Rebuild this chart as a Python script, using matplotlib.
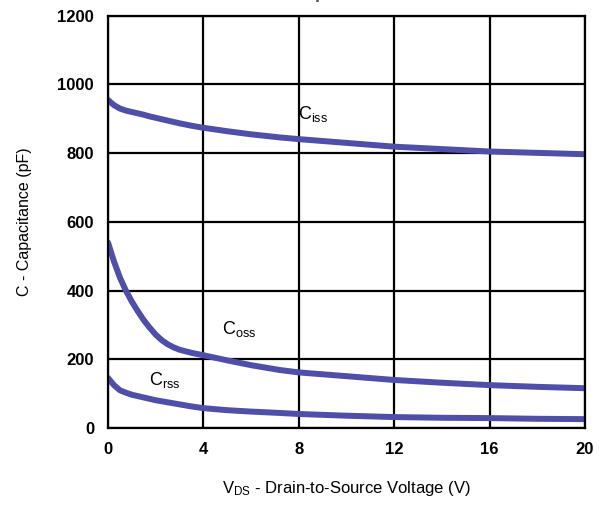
import matplotlib
matplotlib.use('Agg')
import matplotlib.pyplot as plt

plt.rcParams['font.family'] = ['Liberation Sans', 'DejaVu Sans']
plt.rcParams['mathtext.fontset'] = 'custom'
plt.rcParams['mathtext.rm'] = 'Liberation Sans'

# V_DS (V) and capacitances (pF)
vds = [0, 0.25, 0.5, 0.75, 1, 1.25, 1.5, 1.75, 2, 2.25, 2.5, 2.75, 3, 3.5, 4, 5, 6, 7.2, 8, 10, 12, 14, 16, 18, 20]
ciss = [955, 940, 930, 924, 920, 916, 912, 907, 903, 899, 895, 891, 887, 880, 874, 864, 855, 846, 841, 830, 819, 812, 805, 801, 797]
coss = [540, 485, 438, 400, 368, 340, 314, 292, 272, 256, 244, 235, 228, 219, 212, 197, 183, 169, 162, 151, 140, 132, 125, 120, 116]
crss = [146, 125, 110, 103, 97, 93, 89, 85, 81, 78, 75, 72, 69, 63, 58, 52, 48, 44, 41, 36, 32, 30, 29, 27, 26]

line_color = '#4f4ea8'

fig = plt.figure(figsize=(6, 5.09), dpi=100)
ax = fig.add_axes([0.18, 0.159, 0.795, 0.81])

ax.plot(vds, ciss, color=line_color, lw=4.3, solid_capstyle='round')
ax.plot(vds, coss, color=line_color, lw=4.3, solid_capstyle='round')
ax.plot(vds, crss, color=line_color, lw=4.3, solid_capstyle='round')

ax.set_xlim(0, 20)
ax.set_ylim(0, 1200)
ax.set_xticks([0, 4, 8, 12, 16, 20])
ax.set_yticks([0, 200, 400, 600, 800, 1000, 1200])
ax.tick_params(length=0, pad=10, labelsize=12)
for lab in ax.get_xticklabels() + ax.get_yticklabels():
    lab.set_fontweight('bold')
ax.grid(color='black', lw=1.6)
for s in ax.spines.values():
    s.set_linewidth(1.6)

ax.text(8.6, 915, r'$\mathregular{C_{iss}}$', fontsize=13, ha='center', va='center')
ax.text(5.5, 287, r'$\mathregular{C_{oss}}$', fontsize=13, ha='center', va='center')
ax.text(2.4, 140, r'$\mathregular{C_{rss}}$', fontsize=13, ha='center', va='center')

ax.set_xlabel(r'$\mathregular{V_{DS}}$ - Drain-to-Source Voltage (V)', fontsize=12, labelpad=16)
ax.set_ylabel('C - Capacitance (pF)', fontsize=11.5, labelpad=18)

fig.text(0.575, 1.012, 'Capacitance', fontsize=13, fontweight='bold', ha='center', va='center', color='#555555')

fig.savefig('out.png', dpi=100)
